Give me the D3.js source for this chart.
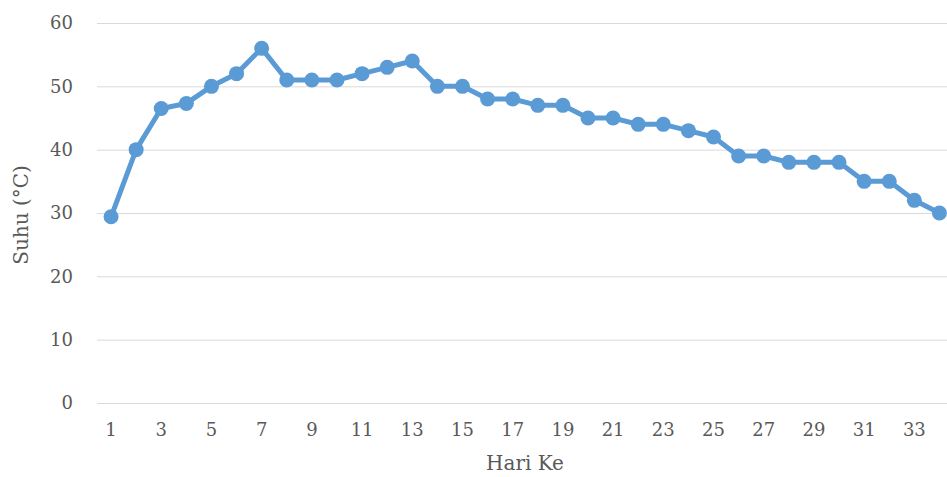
<!DOCTYPE html>
<html>
<head>
<meta charset="utf-8">
<script src="https://cdn.jsdelivr.net/npm/d3@7"></script>
<style>
  html, body { margin: 0; padding: 0; background: #fff; }
  svg { display: block; }
  text { font-family: "DejaVu Serif", "Liberation Serif", serif; fill: #595959; }
</style>
</head>
<body>
<svg id="chart" width="947" height="477"></svg>
<script>
// Daily temperature readings (°C)
const days = d3.range(1, 35);
const suhu = [29.4, 40, 46.5, 47.3, 50, 52, 56, 51, 51, 51, 52, 53, 54, 50, 50,
              48, 48, 47, 47, 45, 45, 44, 44, 43, 42, 39, 39, 38, 38, 38, 35, 35, 32, 30];
const yTicks = [0, 10, 20, 30, 40, 50, 60];
const xTickDays = days.filter(d => d % 2 === 1);
const xTitle = "Hari Ke";
const yTitle = "Suhu (°C)";

(function () {
  const svg = d3.select("#chart");
  const m = { left: 98.5, right: 952, top: 23, bottom: 403 };

  const x = d3.scaleBand().domain(days).range([m.left, m.right]);
  const y = d3.scaleLinear().domain([0, 60]).range([m.bottom, m.top]);
  const cx = d => x(d) + x.bandwidth() / 2;

  // Horizontal gridlines
  const yAxis = d3.axisLeft(y).tickValues(yTicks).tickSize(-(947 - 97)).tickPadding(24);
  const gy = svg.append("g").attr("transform", "translate(97,0)").call(yAxis);
  gy.select(".domain").remove();
  gy.selectAll(".tick line").attr("stroke", "#d9d9d9").attr("stroke-width", 1);
  gy.selectAll(".tick text").attr("font-size", 18).attr("fill", "#595959");

  // Category axis labels (odd days)
  const xAxis = d3.axisBottom(x).tickValues(xTickDays).tickSize(0).tickPadding(20);
  const gx = svg.append("g").attr("transform", `translate(0,${m.bottom})`).call(xAxis);
  gx.select(".domain").remove();
  gx.selectAll(".tick text").attr("font-size", 18).attr("fill", "#595959");

  // Temperature line
  const line = d3.line().x((d, i) => cx(days[i])).y(d => y(d));
  svg.append("path")
    .datum(suhu)
    .attr("d", line)
    .attr("fill", "none")
    .attr("stroke", "#5b9bd5")
    .attr("stroke-width", 5)
    .attr("stroke-linejoin", "round");

  svg.append("g").selectAll("circle")
    .data(suhu)
    .join("circle")
    .attr("cx", (d, i) => cx(days[i]))
    .attr("cy", d => y(d))
    .attr("r", 7.5)
    .attr("fill", "#5b9bd5");

  // Axis titles
  svg.append("text")
    .attr("x", 525).attr("y", 470)
    .attr("text-anchor", "middle")
    .attr("font-size", 20)
    .text(xTitle);

  svg.append("text")
    .attr("transform", "translate(28,215) rotate(-90)")
    .attr("text-anchor", "middle")
    .attr("font-size", 20)
    .text(yTitle);
})();
</script>
</body>
</html>
